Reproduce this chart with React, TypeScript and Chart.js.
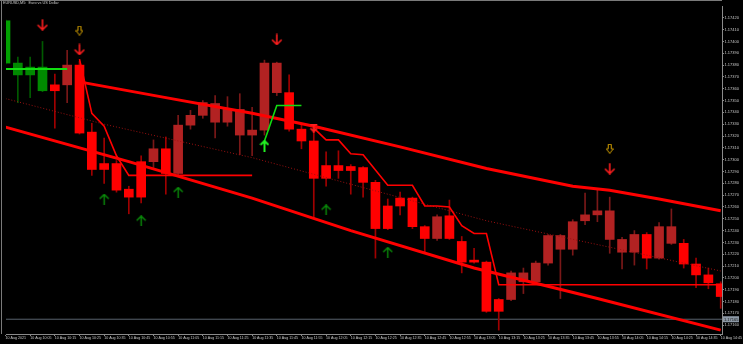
import React, { useEffect, useRef } from "react";
import { Chart, registerables } from "chart.js";
Chart.register(...registerables);

const chartTitle = "EURUSD,M5:  Euro vs US Dollar";
const timeLabels = [
  "10 Aug 2021", "10 Aug 10:05", "10 Aug 10:15", "10 Aug 10:25", "10 Aug 10:35", "10 Aug 10:45",
  "10 Aug 10:55", "10 Aug 11:05", "10 Aug 11:15", "10 Aug 11:25", "10 Aug 11:35", "10 Aug 11:45",
  "10 Aug 11:55", "10 Aug 12:05", "10 Aug 12:15", "10 Aug 12:25", "10 Aug 12:35", "10 Aug 12:45",
  "10 Aug 12:55", "10 Aug 13:05", "10 Aug 13:15", "10 Aug 13:25", "10 Aug 13:35", "10 Aug 13:45",
  "10 Aug 13:55", "10 Aug 14:05", "10 Aug 14:15", "10 Aug 14:25", "10 Aug 14:35", "10 Aug 14:45",
];
const yTickValues = [
  1.1716, 1.1717, 1.1718, 1.1719, 1.172, 1.1721, 1.1722, 1.1723, 1.1724, 1.1725, 1.1726, 1.1727,
  1.1728, 1.1729, 1.173, 1.1731, 1.1732, 1.1733, 1.1734, 1.1735, 1.1736, 1.1737, 1.1738, 1.1739,
  1.174, 1.1741, 1.1742,
];

const openPrices = [
  1.174175, 1.173817, 1.173717, 1.173783, 1.173583, 1.173633, 1.1738, 1.173233, 1.172917, 1.172967,
  1.17275, 1.172683, 1.172983, 1.173092, 1.172883, 1.173292, 1.173375, 1.173475, 1.173317, 1.173425,
  1.173208, 1.17325, 1.173817, 1.173567, 1.173258, 1.173158, 1.172842, 1.17295, 1.172908, 1.172933,
  1.172808, 1.172417, 1.172608, 1.172675, 1.172433, 1.172333, 1.172525, 1.172308, 1.172133, 1.172133,
  1.171717, 1.171817, 1.172042, 1.171967, 1.172125, 1.172358, 1.172242, 1.172483, 1.172533, 1.172567,
  1.172325, 1.172217, 1.172367, 1.172167, 1.172433, 1.172292, 1.172117, 1.172025, 1.17195,
];
const highPrices = [
  1.174183, 1.173867, 1.173867, 1.174, 1.173725, 1.173925, 1.173833, 1.173308, 1.173183, 1.172992,
  1.172775, 1.173033, 1.173167, 1.173192, 1.173375, 1.173417, 1.1735, 1.173542, 1.173533, 1.173558,
  1.173442, 1.173842, 1.173825, 1.173717, 1.173292, 1.173242, 1.173067, 1.173075, 1.172958, 1.172942,
  1.172825, 1.172667, 1.172725, 1.172683, 1.172442, 1.172533, 1.172658, 1.17235, 1.17225, 1.172142,
  1.171825, 1.172058, 1.172083, 1.172142, 1.172367, 1.172367, 1.172492, 1.172717, 1.172742, 1.172683,
  1.172342, 1.1724, 1.172383, 1.172467, 1.172583, 1.172325, 1.172167, 1.172083, 1.171967,
];
const lowPrices = [
  1.173808, 1.173483, 1.173525, 1.173575, 1.173267, 1.173483, 1.173217, 1.172867, 1.1728, 1.172725,
  1.172542, 1.172633, 1.172933, 1.172708, 1.172867, 1.173258, 1.17335, 1.173183, 1.173283, 1.173042,
  1.173033, 1.173208, 1.173542, 1.173242, 1.173092, 1.1725, 1.172775, 1.172842, 1.172708, 1.172683,
  1.172167, 1.172408, 1.172533, 1.172417, 1.172217, 1.172317, 1.172325, 1.172042, 1.172125, 1.171708,
  1.171558, 1.171808, 1.171867, 1.171958, 1.172108, 1.171825, 1.172192, 1.17245, 1.172475, 1.172208,
  1.172075, 1.172108, 1.172075, 1.172158, 1.172283, 1.172083, 1.171917, 1.171908, 1.171742,
];
const closePrices = [
  1.173817, 1.173717, 1.173783, 1.173583, 1.173633, 1.1738, 1.173225, 1.172917, 1.172967, 1.172742,
  1.172683, 1.172983, 1.173092, 1.172883, 1.173292, 1.173375, 1.173483, 1.173317, 1.173425, 1.173208,
  1.17325, 1.173817, 1.173567, 1.173258, 1.173158, 1.172842, 1.17295, 1.172908, 1.172942, 1.172808,
  1.172417, 1.172608, 1.172675, 1.172433, 1.172333, 1.172517, 1.172333, 1.172133, 1.17215, 1.171717,
  1.171817, 1.172042, 1.171967, 1.172125, 1.172358, 1.172242, 1.172475, 1.172533, 1.172567, 1.172325,
  1.172217, 1.172367, 1.172167, 1.172433, 1.172292, 1.172117, 1.172025, 1.171958, 1.171842,
];
// g = bright green, G = green, R = bright red, D = dark red
const candleStates = "gGGGRDRRRRRRDRDDDDDDDDDRRRRRRRRRRRRDRRRRRDDDDDDDDDDDRDDRRRR".split("");

const upperIdx = [6, 13, 20, 25, 32, 39, 46, 49, 53, 58];
const upperVals = [1.173658, 1.173525, 1.173392, 1.173283, 1.173108, 1.172925, 1.172775, 1.172742, 1.172667, 1.172567];
const lowerIdx = [0, 10, 20, 28, 38, 48, 58];
const lowerVals = [1.173275, 1.172983, 1.172675, 1.1724, 1.172083, 1.171825, 1.171558];
const midIdx = [0, 8, 20, 39, 58];
const midVals = [1.173517, 1.1733, 1.173017, 1.172483, 1.172058];

const trailAIdx = [6, 7, 8, 9, 10, 11, 12, 13, 14, 15, 16, 17, 18, 19, 20];
const trailAVals = [1.17385, 1.173392, 1.173283, 1.173033, 1.172867, 1.172867, 1.172867, 1.172867, 1.172867, 1.172867, 1.172867, 1.172867, 1.172867, 1.172867, 1.172867];
const trailBIdx = [25, 26, 27, 28, 29, 31, 32, 33, 34, 35, 36, 37, 38, 39, 40, 58];
const trailBVals = [1.173267, 1.173167, 1.173167, 1.17305, 1.173042, 1.172783, 1.172783, 1.172783, 1.172608, 1.172608, 1.1726, 1.172442, 1.172375, 1.172375, 1.171942, 1.171942];
const greenAIdx = [0, 5];
const greenAVals = [1.173767, 1.173767];
const greenBIdx = [21, 22, 24];
const greenBVals = [1.173158, 1.173458, 1.173458];

const sellArrowIdx = [3, 6, 22, 49];
const sellArrowVals = [1.174142, 1.173933, 1.174017, 1.172925];
const alertIdx = [6, 49];
const alertVals = [1.174092, 1.173092];
const buyArrowIdx = [8, 11, 14, 26, 31];
const buyArrowVals = [1.172667, 1.172483, 1.172725, 1.172575, 1.172217];
const switchUpIdx = [21];
const switchUpVals = [1.173117];
const switchDownIdx = [25];
const switchDownVals = [1.173267];

const bidPrice = 1.17165;

const bodyColor: Record<string, string> = { g: "#00a000", G: "#008a00", R: "#ff0000", D: "#b22222" };
const wickColor: Record<string, string> = { g: "#006000", G: "#005a00", R: "#a00000", D: "#7a1818" };

function pts(idx: number[], vals: number[]) {
  return idx.map((x, i) => ({ x, y: vals[i] }));
}

function makeIcon(kind: string): HTMLCanvasElement {
  const c = document.createElement("canvas");
  const ctx = c.getContext("2d")!;
  if (kind === "sell") {
    c.width = 12; c.height = 12;
    ctx.strokeStyle = "#ff1e1e"; ctx.lineWidth = 1.6;
    ctx.beginPath(); ctx.moveTo(6, 0.5); ctx.lineTo(6, 11);
    ctx.moveTo(1.2, 6.2); ctx.lineTo(6, 11); ctx.lineTo(10.8, 6.2); ctx.stroke();
  } else if (kind === "alert") {
    c.width = 8; c.height = 10;
    ctx.strokeStyle = "#d4a000"; ctx.lineWidth = 1;
    ctx.beginPath();
    ctx.moveTo(2.5, 0.5); ctx.lineTo(5.5, 0.5); ctx.lineTo(5.5, 5); ctx.lineTo(7.5, 5);
    ctx.lineTo(4, 9.5); ctx.lineTo(0.5, 5); ctx.lineTo(2.5, 5); ctx.closePath(); ctx.stroke();
  } else if (kind === "buy") {
    c.width = 11; c.height = 11;
    ctx.strokeStyle = "#0a900a"; ctx.lineWidth = 1.4;
    ctx.beginPath(); ctx.moveTo(5.5, 0.8); ctx.lineTo(5.5, 11);
    ctx.moveTo(1, 5.3); ctx.lineTo(5.5, 0.8); ctx.lineTo(10, 5.3); ctx.stroke();
  } else if (kind === "switchUp") {
    c.width = 10; c.height = 12;
    ctx.strokeStyle = "#22f022"; ctx.lineWidth = 2;
    ctx.beginPath(); ctx.moveTo(5, 1); ctx.lineTo(5, 12);
    ctx.moveTo(1, 5); ctx.lineTo(5, 1); ctx.lineTo(9, 5); ctx.stroke();
  } else {
    c.width = 9; c.height = 9;
    ctx.strokeStyle = "#ff2020"; ctx.lineWidth = 1.8;
    ctx.beginPath(); ctx.moveTo(1, 1); ctx.lineTo(8, 1);
    ctx.moveTo(4.5, 1); ctx.lineTo(4.5, 8);
    ctx.moveTo(1.2, 4.7); ctx.lineTo(4.5, 8); ctx.lineTo(7.8, 4.7); ctx.stroke();
  }
  return c;
}

const framePlugin = {
  id: "frame",
  beforeDatasetsDraw(chart: any) {
    const { ctx, chartArea } = chart;
    ctx.save();
    ctx.strokeStyle = "#7a7a7a";
    ctx.lineWidth = 1;
    ctx.beginPath();
    ctx.moveTo(0, 0.5); ctx.lineTo(chartArea.right, 0.5);
    ctx.moveTo(1.5, 0); ctx.lineTo(1.5, chartArea.bottom);
    ctx.stroke();
    ctx.restore();
  },
  afterDraw(chart: any) {
    const { ctx, chartArea, scales } = chart;
    const py = scales.y.getPixelForValue(bidPrice);
    ctx.save();
    ctx.fillStyle = "#8d99a6";
    ctx.fillRect(chartArea.right + 1, py - 3, 16, 6);
    ctx.fillStyle = "#101010";
    ctx.font = "4px 'Liberation Sans'";
    ctx.textBaseline = "middle";
    ctx.fillText(bidPrice.toFixed(5), chartArea.right + 2, py + 0.3);
    ctx.restore();
  },
};

export default function App() {
  const ref = useRef<HTMLCanvasElement | null>(null);
  useEffect(() => {
    if (!ref.current) return;
    const minX = 0.04;
    const maxX = 58.105;
    const lineBase = { type: "line" as const, pointRadius: 0, tension: 0, fill: false };
    const chart = new Chart(ref.current, {
      type: "bar",
      data: {
        datasets: [
          {
            ...lineBase,
            data: [{ x: minX, y: bidPrice }, { x: maxX, y: bidPrice }],
            borderColor: "#58626d",
            borderWidth: 1,
            order: 13,
          } as any,
          {
            type: "bar",
            data: lowPrices.map((l, i) => ({ x: i, y: [l, highPrices[i]] })),
            backgroundColor: candleStates.map((s) => wickColor[s]),
            barThickness: 1,
            grouped: false,
            clip: 0,
            order: 12,
          } as any,
          {
            type: "bar",
            data: openPrices.map((o, i) => ({ x: i, y: [Math.min(o, closePrices[i]), Math.max(o, closePrices[i])] })),
            backgroundColor: candleStates.map((s) => bodyColor[s]),
            barThickness: 9,
            grouped: false,
            clip: 0,
            order: 11,
          } as any,
          { ...lineBase, data: pts(midIdx, midVals), borderColor: "#9b1010", borderWidth: 1, borderDash: [1, 2], order: 6 } as any,
          { ...lineBase, data: pts(upperIdx, upperVals), borderColor: "#ff0000", borderWidth: 3, order: 5 } as any,
          { ...lineBase, data: pts(lowerIdx, lowerVals), borderColor: "#ff0000", borderWidth: 3, order: 5 } as any,
          { ...lineBase, data: pts(trailAIdx, trailAVals), borderColor: "#ff0000", borderWidth: 1.6, order: 4 } as any,
          { ...lineBase, data: pts(trailBIdx, trailBVals), borderColor: "#ff0000", borderWidth: 1.6, order: 4 } as any,
          { ...lineBase, data: pts(greenAIdx, greenAVals), borderColor: "#11dd11", borderWidth: 1.8, order: 4 } as any,
          { ...lineBase, data: pts(greenBIdx, greenBVals), borderColor: "#11dd11", borderWidth: 1.6, order: 4 } as any,
          { type: "scatter", data: pts(sellArrowIdx, sellArrowVals), pointStyle: makeIcon("sell"), pointRadius: 5, order: 1 } as any,
          { type: "scatter", data: pts(alertIdx, alertVals), pointStyle: makeIcon("alert"), pointRadius: 5, order: 1 } as any,
          { type: "scatter", data: pts(buyArrowIdx, buyArrowVals), pointStyle: makeIcon("buy"), pointRadius: 5, order: 1 } as any,
          { type: "scatter", data: pts(switchUpIdx, switchUpVals), pointStyle: makeIcon("switchUp"), pointRadius: 5, order: 1 } as any,
          { type: "scatter", data: pts(switchDownIdx, switchDownVals), pointStyle: makeIcon("switchDown"), pointRadius: 5, order: 1 } as any,
        ],
      },
      options: {
        responsive: false,
        animation: false,
        events: [],
        layout: { padding: { left: 2, top: 1, right: 0, bottom: 0 } },
        plugins: { legend: { display: false }, tooltip: { enabled: false } },
        scales: {
          x: {
            type: "linear",
            min: minX,
            max: maxX,
            offset: false,
            afterBuildTicks: (axis: any) => {
              axis.ticks = timeLabels.map((_, k) => ({ value: k * 2 }));
            },
            afterFit: (s: any) => { s.height = 10; },
            ticks: {
              callback: (_v: any, i: number) => timeLabels[i],
              align: "start",
              autoSkip: false,
              maxRotation: 0,
              minRotation: 0,
              padding: 0,
              color: "#c8c8c8",
              font: { size: 3.6, family: "'Liberation Sans'" },
            },
            grid: { offset: false, drawOnChartArea: false, drawTicks: true, tickLength: 2, color: "#8a8a8a" },
            border: { display: true, color: "#8a8a8a" },
          },
          y: {
            type: "linear",
            position: "right",
            min: 1.171525,
            max: 1.1743,
            afterBuildTicks: (axis: any) => {
              axis.ticks = yTickValues.map((v) => ({ value: v }));
            },
            afterFit: (s: any) => { s.width = 21; },
            ticks: {
              callback: (v: any) => Number(v).toFixed(5),
              autoSkip: false,
              padding: 0.5,
              color: "#c8c8c8",
              font: { size: 4, family: "'Liberation Sans'" },
            },
            grid: { drawOnChartArea: false, drawTicks: true, tickLength: 2, color: "#8a8a8a" },
            border: { display: true, color: "#8a8a8a" },
          },
        },
      } as any,
      plugins: [framePlugin],
    });
    return () => chart.destroy();
  }, []);

  return (
    <div style={{ position: "fixed", left: 0, top: 0, width: 743, height: 344, background: "#000", overflow: "hidden" }}>
      <canvas ref={ref} width={743} height={344} style={{ display: "block", width: 743, height: 344 }} />
      <div
        style={{
          position: "absolute", left: 3, top: 2, fontSize: "3.8px", lineHeight: 1,
          fontFamily: "'Liberation Sans'", color: "#c8c8c8", whiteSpace: "pre",
        }}
      >
        {chartTitle}
      </div>
    </div>
  );
}
